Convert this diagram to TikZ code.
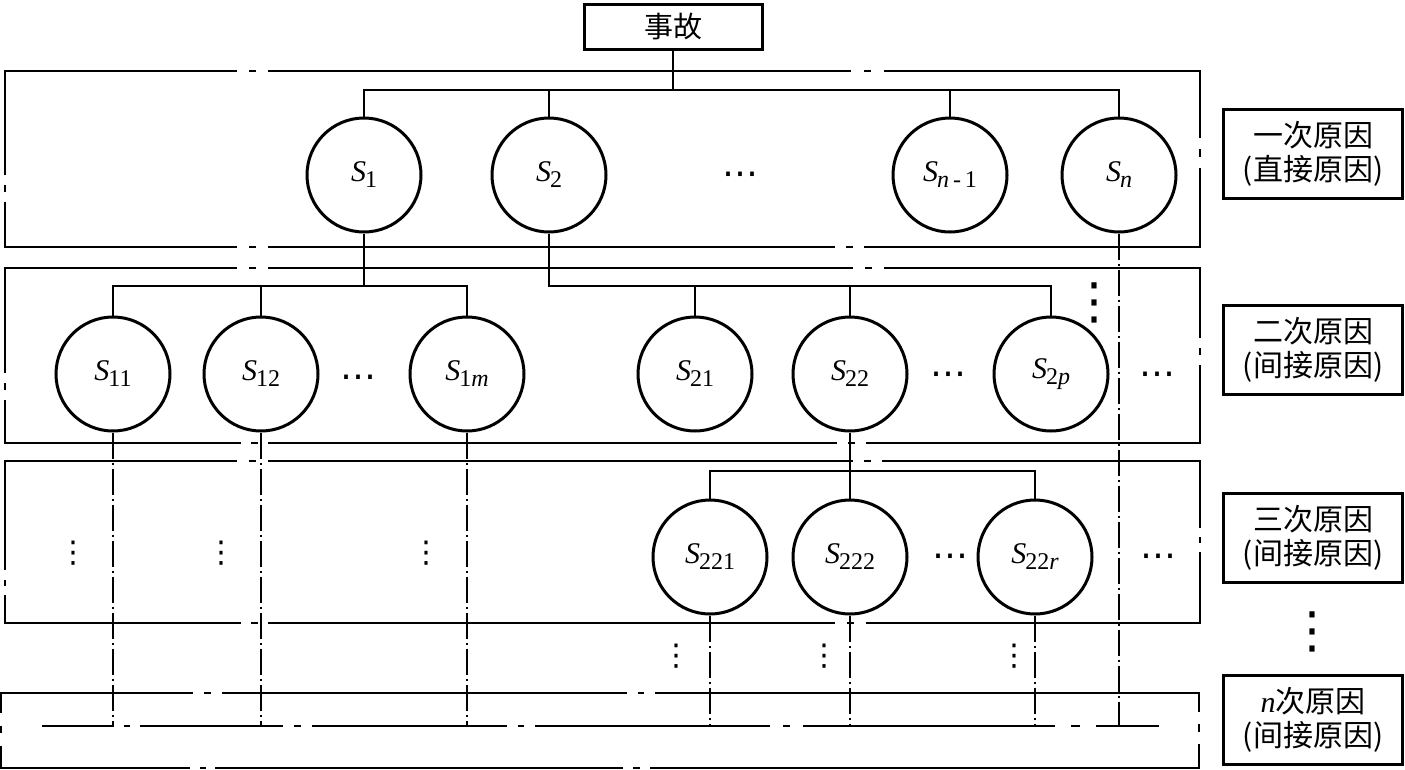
\documentclass[tikz,border=0pt]{standalone}
\usepackage{fontspec}
\setmainfont{Liberation Serif}
\newfontfamily\cjk{Noto Sans CJK SC}
\newfontfamily\dejavu{DejaVu Sans}
\newcommand\hbrk[3]{% y, a, b
  \fill[white] ({#2},{#1-3}) rectangle ({#3},{#1+3});
  \draw[boxline] ({#2+0.38*(#3-#2)},#1) -- ({#2+0.62*(#3-#2)},#1);}
\newcommand\vbrk[3]{% x, a, b
  \fill[white] ({#1-3},{#2}) rectangle ({#1+3},{#3});
  \draw[boxline] (#1,{#2+0.38*(#3-#2)}) -- (#1,{#2+0.62*(#3-#2)});}
\newcommand\Sx[1]{{\itshape S}\kern-1pt\raisebox{-6pt}{\fontsize{24}{24}\selectfont #1}}
\begin{document}
\begin{tikzpicture}[x=1pt,y=-1pt,
  boxline/.style={line width=2pt},
  conn/.style={line width=1.4pt},
  dd/.style={line width=1.4pt, dash pattern=on 26pt off 4pt on 2pt off 4pt},
  cause/.style={circle, draw, line width=3pt, fill=white, minimum size=114pt, inner sep=0pt, font=\fontsize{30}{34}\selectfont},
  lbl/.style={draw, line width=3pt, minimum width=179pt, minimum height=89pt, inner sep=0pt, align=center, font=\cjk\fontsize{30}{34}\selectfont},
  hd/.style={inner sep=0pt, yshift=-6pt, font=\dejavu\fontsize{36}{36}\selectfont},
  vd/.style={inner sep=0pt, font=\dejavu\fontsize{30}{30}\selectfont},
  vdbig/.style={inner sep=0pt, font=\dejavu\fontsize{50}{50}\selectfont}]
\useasboundingbox (0,0) rectangle (1405,769);
% layer boxes
\draw[boxline] (5,71) rectangle (1200,247);
\draw[boxline] (5,268) rectangle (1200,443);
\draw[boxline] (5,461) rectangle (1200,623);
\draw[boxline] (1,693) rectangle (1199,768);
% breaks
\hbrk{71}{237}{268}\hbrk{71}{851}{884}\hbrk{247}{237}{268}\hbrk{247}{835}{864}
\vbrk{5}{175}{202}\vbrk{1200}{138}{168}
\hbrk{268}{237}{268}\hbrk{268}{853}{884}\hbrk{443}{241}{268}\hbrk{443}{837}{866}
\vbrk{5}{373}{400}\vbrk{1200}{338}{365}
\hbrk{461}{237}{268}\hbrk{461}{853}{882}\hbrk{623}{241}{268}\hbrk{623}{835}{866}
\vbrk{5}{570}{595}\vbrk{1200}{528}{552}
\hbrk{693}{193}{222}\hbrk{693}{627}{655}\hbrk{768}{190}{215}\hbrk{768}{623}{650}
\vbrk{1}{713}{746}\vbrk{1199}{712}{744}
% bottom line
\coordinate (bl) at (42,726);
\coordinate (br) at (1159,726);
\draw[conn] (bl) -- (br);
\hbrk{726}{114}{140}\hbrk{726}{283}{312}\hbrk{726}{507}{535}\hbrk{726}{770}{803}\hbrk{726}{1055}{1096}
% top node
\node[draw, line width=3pt, minimum width=178pt, minimum height=45pt, inner sep=0pt, font=\cjk\fontsize{29}{34}\selectfont] (acc) at (673,26.5) {事故};
% labels
\node[lbl] (l1) at (1313,154) {一次原因\\(直接原因)};
\node[lbl] (l2) at (1313,350) {二次原因\\(间接原因)};
\node[lbl] (l3) at (1313,537.5) {三次原因\\(间接原因)};
\node[lbl] (l4) at (1313,719.5) {{\fontspec{Liberation Serif}\itshape n}次原因\\(间接原因)};
% circles
\node[cause] (s1) at (364,175) {\Sx{1}};
\node[cause] (s2) at (549,175) {\Sx{2}};
\node[cause] (sn1) at (950,175) {\Sx{{\itshape n}\,-\,1}};
\node[cause] (sn) at (1119,175) {\Sx{\itshape n}};
\node[cause] (s11) at (113,374) {\Sx{11}};
\node[cause] (s12) at (261,374) {\Sx{12}};
\node[cause] (s1m) at (467,374) {\Sx{1{\itshape m}}};
\node[cause] (s21) at (695,374) {\Sx{21}};
\node[cause] (s22) at (850,374) {\Sx{22}};
\node[cause] (s2p) at (1051,374) {\Sx{2{\itshape p}}};
\node[cause] (s221) at (710,557) {\Sx{221}};
\node[cause] (s222) at (850,557) {\Sx{222}};
\node[cause] (s22r) at (1035,557) {\Sx{22{\itshape r}}};
% level lines
\coordinate (h1) at (0,90);
\coordinate (h2) at (0,286);
\coordinate (h3) at (0,471);
\draw[conn] (acc.south) -- (acc.south |- h1);
\draw[conn] (s1.north) -- (s1.north |- h1) -- (sn.north |- h1) -- (sn.north);
\draw[conn] (s2.north) -- (s2.north |- h1);
\draw[conn] (sn1.north) -- (sn1.north |- h1);
\draw[conn] (s1.south) -- (s1.south |- h2);
\draw[conn] (s11.north) -- (s11.north |- h2) -- (s1m.north |- h2) -- (s1m.north);
\draw[conn] (s12.north) -- (s12.north |- h2);
\draw[conn] (s2.south) -- (s2.south |- h2) -- (s2p.north |- h2) -- (s2p.north);
\draw[conn] (s21.north) -- (s21.north |- h2);
\draw[conn] (s22.north) -- (s22.north |- h2);
\draw[conn] (s22.south) -- (s22.south |- h3);
\draw[conn] (s221.north) -- (s221.north |- h3) -- (s22r.north |- h3) -- (s22r.north);
\draw[conn] (s222.north) -- (s222.north |- h3);
% dash-dot lines to the bottom line
\foreach \n in {s11,s12,s1m,s221,s222,s22r,sn}
  \draw[dd] (\n.south) -- (\n.south |- bl);
% dots
\node[hd] (d1) at (740,173) {⋯};
\node[hd] (d2) at (358,376) {⋯};
\node[hd] (d3) at (948,373) {⋯};
\node[hd] (d4) at (1157,373) {⋯};
\node[hd] (d5) at (950,555) {⋯};
\node[hd] (d6) at (1158,555) {⋯};
\node[vdbig] (v1) at (1094,303) {⋮};
\node[vd] (v2) at (73,553) {⋮};
\node[vd] (v3) at (221,553) {⋮};
\node[vd] (v4) at (426,553) {⋮};
\node[vd] (v5) at (676,656) {⋮};
\node[vd] (v6) at (824,656) {⋮};
\node[vd] (v7) at (1014,656) {⋮};
\node[vdbig] (v8) at (1312,632) {⋮};
\end{tikzpicture}
\end{document}
